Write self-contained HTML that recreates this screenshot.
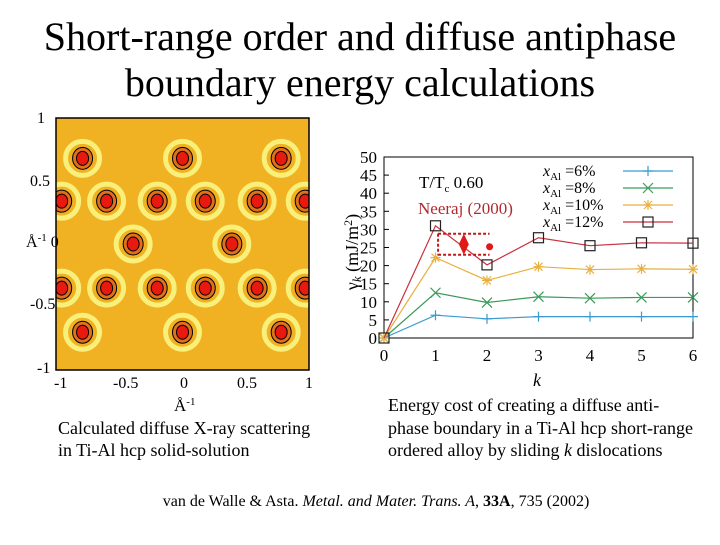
<!DOCTYPE html>
<html><head><meta charset="utf-8"><style>
body{margin:0;background:#fff;width:720px;height:540px;overflow:hidden;font-family:"Liberation Serif",serif;}
</style></head><body>
<svg width="720" height="540" viewBox="0 0 720 540" xmlns="http://www.w3.org/2000/svg" font-family="Liberation Serif, serif">
<defs><clipPath id="mapclip"><rect x="56" y="118" width="253" height="252"/></clipPath></defs>
<text x="360" y="50" font-size="40" text-anchor="middle">Short-range order and diffuse antiphase</text>
<text x="360" y="96" font-size="40" text-anchor="middle">boundary energy calculations</text>

<g id="map">
<rect x="56" y="118" width="253" height="252" fill="#f0b222"/>
<g id="spots" clip-path="url(#mapclip)"></g>
<rect x="56" y="118" width="253" height="252" fill="none" stroke="#000" stroke-width="1.5"/>
</g>
<g font-size="16">
<text x="37" y="123">1</text><text x="30" y="186">0.5</text><text x="26" y="247">Å<tspan font-size="11" dy="-6">-1</tspan><tspan dy="6"> 0</tspan></text>
<text x="30" y="309">-0.5</text><text x="37" y="373">-1</text>
<text x="54" y="388">-1</text><text x="113" y="388">-0.5</text><text x="180" y="388">0</text><text x="237" y="388">0.5</text><text x="305" y="388">1</text>
<text x="174" y="411" font-size="17">Å<tspan font-size="11" dy="-6">-1</tspan></text>
</g>

<g id="chart"></g>

<text x="58" y="434" font-size="18">Calculated diffuse X-ray scattering</text>
<text x="58" y="456" font-size="18">in Ti-Al hcp solid-solution</text>
<text x="388" y="411" font-size="18">Energy cost of creating a diffuse anti-</text>
<text x="388" y="434" font-size="18">phase boundary in a Ti-Al hcp short-range</text>
<text x="388" y="456" font-size="18">ordered alloy by sliding <tspan font-style="italic">k</tspan> dislocations</text>
<text x="376" y="506" font-size="16" text-anchor="middle">van de Walle &amp; Asta. <tspan font-style="italic">Metal. and Mater. Trans. A</tspan>, <tspan font-weight="bold">33A</tspan>, 735 (2002)</text>
</svg>
<script>
const NS="http://www.w3.org/2000/svg";
function mk(tag,attrs,parent){const e=document.createElementNS(NS,tag);for(const k in attrs)e.setAttribute(k,attrs[k]);parent.appendChild(e);return e;}
const spotX=[-0.79,0,0.78,-0.955,-0.6,-0.2,0.18,0.59,0.97,-0.39,0.39,-0.955,-0.6,-0.2,0.18,0.59,0.97,-0.79,0,0.78];
const spotY=[0.68,0.68,0.68,0.34,0.34,0.34,0.34,0.34,0.34,0,0,-0.35,-0.35,-0.35,-0.35,-0.35,-0.35,-0.7,-0.7,-0.7];
const mx=v=>56+(v+1)/2*253, my=v=>370-(v+1)/2*252;
const sp=document.getElementById('spots');
for(let i=0;i<spotX.length;i++){
 const cx=mx(spotX[i]),cy=my(spotY[i]);
 const r=mk('circle',{cx,cy,r:17,fill:'none',stroke:'#f8f07a','stroke-width':5},sp);
 
 const o=mk('ellipse',{cx,cy,rx:10,ry:11,fill:'#e0701a',stroke:'#000','stroke-width':1},sp);
 
 const s=mk('ellipse',{cx,cy,rx:6,ry:7,fill:'#e81a10',stroke:'#000','stroke-width':1},sp);
 
}
const kVals=[0,1,2,3,4,5,6];
const s6=[0,6.3,5.3,5.9,5.9,5.9,5.9];
const s8=[0,12.5,9.8,11.4,11,11.2,11.2];
const s10=[0,22.2,15.9,19.7,18.9,19.1,19];
const s12=[0,31,20.2,27.7,25.5,26.3,26.2];
const yTicks=[0,5,10,15,20,25,30,35,40,45,50];
const legendLabels=["=6%","=8%","=10%","=12%"];
const X=k=>384+k*51.5, Y=v=>338-v*3.62;
const g=document.getElementById('chart');
const fr=mk('rect',{x:384,y:Y(50),width:X(6)-384,height:338-Y(50),fill:'none',stroke:'#000','stroke-width':1},g);

yTicks.forEach(t=>{const tx=mk('text',{x:377,y:Y(t)+6,'font-size':17,'text-anchor':'end'},g);tx.textContent=t;
 
 mk('line',{x1:384,x2:389,y1:Y(t),y2:Y(t),stroke:'#000'},g);});
kVals.forEach(k=>{const tx=mk('text',{x:X(k),y:361,'font-size':17,'text-anchor':'middle'},g);tx.textContent=k;
 });
const xl=mk('text',{x:537,y:386,'font-size':18,'font-style':'italic','text-anchor':'middle'},g);xl.textContent='k';

const yl=mk('text',{x:0,y:0,'font-size':18,'text-anchor':'middle',transform:'translate(358,252) rotate(-90)'},g);
yl.innerHTML='γ<tspan font-style="italic" font-size="13" dy="3">k</tspan><tspan dy="-3"> (mJ/m</tspan><tspan font-size="12" dy="-6">2</tspan><tspan dy="6">)</tspan>';

const series=[[s6,'#3a9ad0','plus'],[s8,'#3a9a5a','x'],[s10,'#e8b040','star'],[s12,'#c83040','square']];
function marker(type,cx,cy,col){
 const gm=mk('g',{},g);
 if(type==='plus'){mk('path',{d:`M${cx-5},${cy}H${cx+5}M${cx},${cy-5}V${cy+5}`,stroke:col,'stroke-width':1.2},gm);}
 if(type==='x'){mk('path',{d:`M${cx-5},${cy-5}L${cx+5},${cy+5}M${cx-5},${cy+5}L${cx+5},${cy-5}`,stroke:col,'stroke-width':1.2},gm);}
 if(type==='star'){mk('path',{d:`M${cx-5},${cy}H${cx+5}M${cx},${cy-5}V${cy+5}M${cx-4},${cy-4}L${cx+4},${cy+4}M${cx-4},${cy+4}L${cx+4},${cy-4}`,stroke:col,'stroke-width':1.2},gm);}
 if(type==='square'){mk('rect',{x:cx-5,y:cy-5,width:10,height:10,fill:'none',stroke:'#222','stroke-width':1.2},gm);}
 return gm;}
series.forEach(([d,col,m],i)=>{
 const pl=mk('polyline',{points:d.map((v,j)=>X(kVals[j])+','+Y(v)).join(' '),fill:'none',stroke:col,'stroke-width':1.2},g);
 
 d.forEach((v,j)=>{const mm=marker(m,X(kVals[j]),Y(v),col);});
 const ly=171+i*17;
 const lt=mk('text',{x:543,y:ly+5,'font-size':16},g);
 lt.innerHTML='<tspan font-style="italic">x</tspan><tspan font-size="11" dy="4">Al</tspan><tspan dy="-4"> '+legendLabels[i]+'</tspan>';
 
 const ll=mk('line',{x1:623,x2:673,y1:ly,y2:ly,stroke:col,'stroke-width':1.2},g);
 
 const lm=marker(m,648,ly,col);
});
const tt=mk('text',{x:419,y:188,'font-size':17},g);tt.innerHTML='T/T<tspan font-size="11" dy="4">c</tspan><tspan dy="-4">   0.60</tspan>';

const ne=mk('text',{x:418,y:214,'font-size':17,fill:'#b02a30'},g);ne.textContent='Neeraj (2000)';

const nLo=23,nHi=28.8,nMid=25.9,nK=1.55,dotK=2.05,dotV=25.2;
const nb=mk('path',{d:`M${X(1.05)},${Y(nHi)}H${X(2.05)}M${X(1.05)},${Y(nLo)}H${X(2.05)}M${X(1.05)},${Y(nHi)}V${Y(nLo)}`,stroke:'#c01818','stroke-width':2,'stroke-dasharray':'3,2',fill:'none'},g);

const nd=mk('path',{d:`M${X(nK)},${Y(nHi)}L${X(nK)+5},${Y(nMid)}L${X(nK)},${Y(nLo)}L${X(nK)-5},${Y(nMid)}Z`,fill:'#e01818'},g);

const dt=mk('circle',{cx:X(dotK),cy:Y(dotV),r:3.5,fill:'#e01818'},g);

</script>
</body></html>
